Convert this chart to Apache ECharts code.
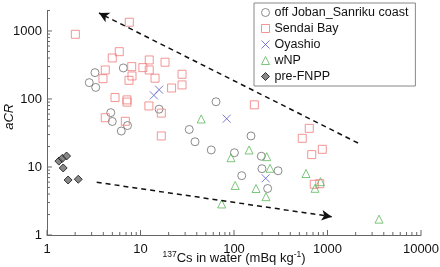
<!DOCTYPE html>
<html>
<head>
<meta charset="utf-8">
<script src="https://cdn.jsdelivr.net/npm/echarts@6/dist/echarts.min.js"></script>
<style>
  html, body { margin: 0; padding: 0; background: #fff; }
  #chart { width: 440px; height: 267px; }
</style>
</head>
<body>
<div id="chart"></div>
<script>
// 137Cs in water (mBq/kg) vs aCR
const jobanPts = [
  [3.26, 244], [2.83, 174], [3.32, 148], [6.55, 286], [4.81, 63], [4.99, 46.7],
  [6.23, 33.8], [7.26, 40.7], [15.8, 70.8], [33.2, 35.6], [38.3, 23.5], [57.1, 17.8],
  [64.2, 91], [101, 16.2], [121, 7.45], [152, 28.6], [196, 14.4], [199, 9.44],
  [296, 8.8], [229, 4.83]
]
const sendaiPts = [
  [2.01, 894], [7.59, 1343], [5.93, 496], [4.99, 401], [4.2, 267], [3.97, 199],
  [8.05, 299], [8.11, 218], [7.53, 188], [10.6, 289], [12.4, 375], [12.4, 267],
  [14.3, 202], [18.3, 347], [27.8, 231], [27.8, 161], [21.5, 145], [5.34, 105],
  [7.17, 97], [7.17, 90], [12.3, 79], [16.7, 62], [4.2, 53], [6.88, 47],
  [16.7, 28.6], [165, 82], [638, 37], [537, 26.4], [880, 18.2], [678, 15.2],
  [722, 5.57], [826, 5.68]
]
const oyashioPts = [[15.8, 137], [13.9, 113], [83.6, 51.3], [218, 6.82]]
const wnpPts = [
  [44.6, 50.8], [145, 17.8], [92.9, 13.7], [224, 14.2], [243, 9.57], [103, 5.35],
  [172, 4.83], [220, 3.66], [73.9, 2.86], [589, 8.02], [841, 6.08], [735, 4.86],
  [3556, 1.71]
]
const preFnppPts = [[1.34, 12.2], [1.46, 13.4], [1.62, 14.5], [1.49, 9.67], [1.68, 6.44], [2.16, 6.6]]

// dashed trend arrows: [start, end]
const upperArrow = [[2120, 22.5], [3.6, 1840]]
const lowerArrow = [[3.4, 5.96], [1109, 1.86]]

const xMajor = [1, 10, 100, 1000, 10000]
const yMajor = [1, 10, 100, 1000]

const minorTicks = (lo, hi) => {
  const out = []
  for (let d = lo; d < hi; d *= 10) {
    for (let k = 2; k <= 9; k++) if (d * k <= hi) out.push(d * k)
  }
  return out
}
const xMinor = minorTicks(1, 10000)
const yMinor = minorTicks(1, 2000)

const FONT = '"Liberation Sans", Arial, Helvetica, sans-serif'
const axisGray = '#666'

const chart = echarts.init(document.getElementById('chart'), null, { renderer: 'canvas' })

const openStyle = (c) => ({ color: 'rgba(0,0,0,0)', borderColor: c, borderWidth: 1 })
const crossPath = 'path://M0,0L10,10M10,0L0,10'

const series = [
  { name: 'off Joban_Sanriku coast', data: jobanPts, symbol: 'circle', symbolSize: 8, itemStyle: openStyle('#6e6e6e') },
  { name: 'Sendai Bay', data: sendaiPts, symbol: 'rect', symbolSize: 8, itemStyle: openStyle('#f07a7a') },
  { name: 'Oyashio', data: oyashioPts, symbol: crossPath, symbolSize: 8, itemStyle: openStyle('#5a5ac8') },
  { name: 'wNP', data: wnpPts, symbol: 'triangle', symbolSize: 8, itemStyle: openStyle('#5cb85c') },
  { name: 'pre-FNPP', data: preFnppPts, symbol: 'diamond', symbolSize: 8, itemStyle: { color: '#6a6a6a', borderColor: '#111', borderWidth: 1 } }
].map(s => Object.assign({ type: 'scatter', silent: true }, s))

// small inward ticks, placed through the axes' own log scales
const tickSeries = (vals, len, onX) => ({
  type: 'custom',
  silent: true,
  z: 1,
  data: vals.map(v => [v]),
  renderItem: (params, api) => {
    const area = params.coordSys
    const v = api.value(0)
    if (onX) {
      const p = api.coord([v, 1])
      const y = area.y + area.height
      return { type: 'line', shape: { x1: p[0], y1: y, x2: p[0], y2: y - len }, style: { stroke: axisGray, lineWidth: 1 } }
    }
    const p = api.coord([1, v])
    return { type: 'line', shape: { x1: area.x, y1: p[1], x2: area.x + len, y2: p[1] }, style: { stroke: axisGray, lineWidth: 1 } }
  }
})

series.push(
  tickSeries(xMajor, 5, true), tickSeries(xMinor, 3, true),
  tickSeries(yMajor, 5, false), tickSeries(yMinor, 3, false)
)

series.push({
  type: 'scatter',
  data: [],
  silent: true,
  markLine: {
    silent: true,
    animation: false,
    symbol: ['none', 'arrow'],
    symbolSize: [8, 10],
    label: { show: false },
    lineStyle: { color: '#111', type: [5, 4], width: 1.5 },
    data: [
      [{ coord: upperArrow[0] }, { coord: upperArrow[1] }],
      [{ coord: lowerArrow[0] }, { coord: lowerArrow[1] }]
    ]
  }
})

const plain = v => String(v)

chart.setOption({
  animation: false,
  textStyle: { fontFamily: FONT },
  grid: { left: 47, top: 10.5, width: 374, height: 224.5, containLabel: false, outerBoundsMode: 'none' },
  legend: {
    orient: 'vertical',
    left: 254,
    top: 3,
    padding: [3, 7, 3, 7],
    itemGap: 3,
    itemWidth: 8,
    itemHeight: 8,
    borderColor: '#888',
    borderWidth: 1,
    backgroundColor: '#fff',
    textStyle: { fontFamily: FONT, fontSize: 12.5, color: '#111', lineHeight: 13 },
    data: series.slice(0, 5).map(s => ({ name: s.name, icon: s.symbol, itemStyle: s.itemStyle }))
  },
  xAxis: {
    type: 'log', min: 1, max: 10000, position: 'bottom',
    name: '{s|137}{n|Cs in water (mBq kg}{s|-1}{n|)}',
    nameLocation: 'middle', nameGap: 15, nameMoveOverlap: false,
    nameTextStyle: {
      rich: {
        n: { fontFamily: FONT, fontSize: 13, color: '#111', lineHeight: 16 },
        s: { fontFamily: FONT, fontSize: 8.5, color: '#111', lineHeight: 10, verticalAlign: 'top' }
      }
    },
    axisLine: { show: true, lineStyle: { color: axisGray, width: 1 } },
    axisTick: { show: false },
    axisLabel: { customValues: xMajor, formatter: plain, fontSize: 13, color: '#111', margin: 8 },
    splitLine: { show: false }
  },
  yAxis: {
    type: 'log', min: 1, max: 2000, position: 'left',
    name: 'aCR', nameLocation: 'middle', nameGap: 31, nameMoveOverlap: false,
    nameTextStyle: { fontFamily: FONT, fontSize: 13, fontStyle: 'italic', color: '#111', padding: [0, 0, 0, 12] },
    axisLine: { show: true, lineStyle: { color: axisGray, width: 1 } },
    axisTick: { show: false },
    axisLabel: { customValues: yMajor, formatter: plain, fontSize: 13, color: '#111', margin: 5 },
    splitLine: { show: false }
  },
  series: series
})
</script>
</body>
</html>
